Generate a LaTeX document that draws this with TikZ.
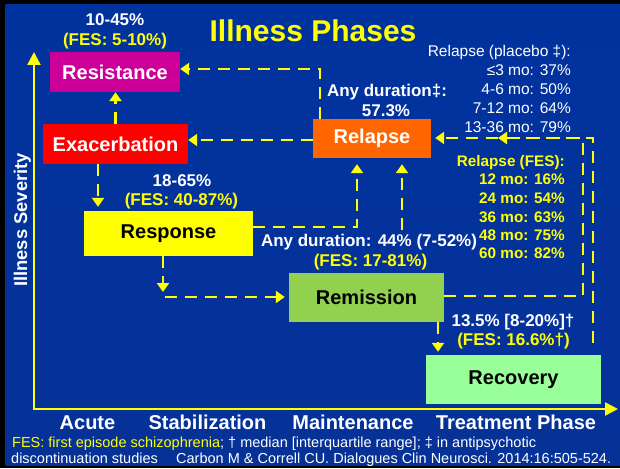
\documentclass[tikz,border=0pt]{standalone}
\usepackage{fontspec}
\setmainfont{Liberation Sans}
\usetikzlibrary{arrows.meta}
\definecolor{ylw}{RGB}{255,255,0}
\definecolor{cmag}{RGB}{204,0,153}
\definecolor{cred}{RGB}{255,0,0}
\definecolor{corange}{RGB}{255,102,0}
\definecolor{cgreen}{RGB}{146,208,80}
\definecolor{clgreen}{RGB}{153,255,153}
\definecolor{bgtop}{RGB}{0,50,158}
\definecolor{bgmid}{RGB}{0,22,74}
\definecolor{bgbot}{RGB}{6,50,152}
\tikzset{
  boxnode/.style={font=\fontsize{20}{24}\selectfont\bfseries, inner sep=0pt, anchor=center},
  lbl/.style={font=\fontsize{17}{20}\selectfont\bfseries, inner sep=0pt, anchor=base},
  plac/.style={font=\fontsize{15.5}{18}\selectfont, text=white, inner sep=0pt, anchor=base east},
  fesl/.style={font=\fontsize{15.3}{18}\selectfont\bfseries, text=ylw, inner sep=0pt, anchor=base east},
  axlbl/.style={font=\fontsize{20}{24}\selectfont\bfseries, text=white, inner sep=0pt, anchor=base},
  foot/.style={font=\fontsize{14.5}{17}\selectfont, text=white, inner sep=0pt, anchor=base west},
  conn/.style={draw=ylw, line width=2.5pt, dash pattern=on 12pt off 8pt, -{Triangle[length=9pt,width=12pt]}},
  axisline/.style={draw=ylw, line width=2.5pt, line join=miter, {Triangle[length=13pt,width=13pt]}-{Triangle[length=13pt,width=13pt]}}
}
\begin{document}
\begin{tikzpicture}[x=1pt,y=-1pt]
\useasboundingbox (0,0) rectangle (620,468);
\fill[black] (0,0) rectangle (620,468);
\shade[top color=bgtop, middle color=bgmid, bottom color=bgbot] (5.5,5) rectangle (620,465);

% title
\node[font=\fontsize{30}{34}\selectfont\bfseries, text=ylw, inner sep=0pt, anchor=base] (title) at (313,42) {Illness Phases};

% axes
\coordinate (orig) at (34,409);
\coordinate (ytip) at (34,52);
\coordinate (xtip) at (618,409);
\draw[axisline] (ytip) -- (orig) -- (xtip);
\node[font=\fontsize{18.4}{22}\selectfont\bfseries, text=white, inner sep=0pt, anchor=base, rotate=90] (sev) at (27,220) {Illness Severity};

% boxes
\node[boxnode, fill=cmag, text=white, minimum width=130pt, minimum height=40pt] (resist) at (115,72) {Resistance};
\node[boxnode, fill=cred, text=white, minimum width=145pt, minimum height=40pt] (exac) at (115.5,144) {Exacerbation};
\node[boxnode, fill=corange, text=white, minimum width=118pt, minimum height=39pt] (relapse) at (372,138.5) {Relapse};
\node[boxnode, fill=ylw, text=black, minimum width=169pt, minimum height=45pt] (response) at (168.5,233.5) {Response};
\node[boxnode, fill=cgreen, text=black, minimum width=155pt, minimum height=49pt] (remission) at (366.5,297.5) {Remission};
\node[boxnode, fill=clgreen, text=black, minimum width=175pt, minimum height=49pt] (recovery) at (513.5,379.5) {Recovery};

% labels
\node[lbl, text=white] (resA) at (115,26) {10-45\%};
\node[lbl, text=ylw] (resB) at (115,46) {(FES: 5-10\%)};
\node[lbl, text=white] (rspA) at (182,186) {18-65\%};
\node[lbl, text=ylw] (rspB) at (181.5,205) {(FES: 40-87\%)};
\node[lbl, text=white] (anyd) at (387,97) {Any duration‡:};
\node[lbl, text=white] (anydB) at (386,116) {57.3\%};
\node[lbl, text=white] (anydur) at (369,246) {Any duration: 44\% (7-52\%)};
\node[lbl, text=ylw] (anydurB) at (370.5,266) {(FES: 17-81\%)};
\node[lbl, text=white] (recA) at (513,326) {13.5\% [8-20\%]†};
\node[lbl, text=ylw] (recB) at (513.5,345) {(FES: 16.6\%†)};

% placebo list
\node[plac] (p0) at (571,57) {Relapse (placebo ‡):};
\node[plac] (p1) at (571,76) {≤3 mo: 37\%};
\node[plac] (p2) at (571,95) {4-6 mo: 50\%};
\node[plac] (p3) at (571,113.5) {7-12 mo: 64\%};
\node[plac] (p4) at (571,132) {13-36 mo: 79\%};

% FES list
\node[fesl] (f0) at (565,166) {Relapse (FES):};
\node[fesl] (f1) at (565,184) {12 mo: 16\%};
\node[fesl] (f2) at (565,203) {24 mo: 54\%};
\node[fesl] (f3) at (565,222) {36 mo: 63\%};
\node[fesl] (f4) at (565,240) {48 mo: 75\%};
\node[fesl] (f5) at (565,258) {60 mo: 82\%};

% connectors
\draw[conn] (exac.north) -- (exac.north |- resist.south);
\coordinate (c1) at (320,69);
\draw[conn] (relapse.north -| c1) -- (c1) -- (c1 -| resist.east);
\coordinate (h140) at (250,140);
\draw[conn] (h140 -| relapse.west) -- (h140 -| exac.east);
\coordinate (v98) at (98,0);
\draw[conn, shorten >=4pt] (exac.south -| v98) -- (response.north -| v98);
\coordinate (c3) at (357,227);
\draw[conn, shorten >=6pt] (c3 -| response.east) -- (c3) -- (c3 |- relapse.south);
\coordinate (v402) at (402,0);
\draw[conn, shorten <=3pt, shorten >=6pt] (anydur.north -| v402) -- (relapse.south -| v402);
\coordinate (v163) at (163,292);
\draw[conn] (response.south -| v163) -- (v163);
\coordinate (h297) at (165,297);
\draw[conn, shorten >=4pt] (h297) -- (h297 -| remission.west);
\coordinate (c4) at (583,296);
\coordinate (c5) at (583,138);
\coordinate (c6) at (498,138);
\draw[conn] (c4 -| remission.east) -- (c4) -- (c5) -- (c6);
\coordinate (c7) at (593,138);
\draw[conn, shorten <=12pt, shorten >=4pt] (recovery.north -| c7) -- (c7) -- (c7 -| relapse.east);
\coordinate (v438) at (438,0);
\draw[conn, shorten >=3pt] (remission.south -| v438) -- (recovery.north -| v438);

% axis labels
\node[axlbl] (acute) at (87.5,429) {Acute};
\node[axlbl] (stab) at (207.5,429) {Stabilization};
\node[axlbl] (maint) at (353,429) {Maintenance};
\node[axlbl] (treat) at (516,429) {Treatment Phase};

% footnotes
\node[foot] (ft1) at (12,447) {\textcolor{ylw}{FES: first episode schizophrenia}; † median [interquartile range]; ‡ in antipsychotic};
\node[foot] (ft2) at (11,463) {discontinuation studies};
\node[foot] (ft3) at (176,463) {Carbon M \& Correll CU. Dialogues Clin Neurosci. 2014:16:505-524.};
\end{tikzpicture}
\end{document}
